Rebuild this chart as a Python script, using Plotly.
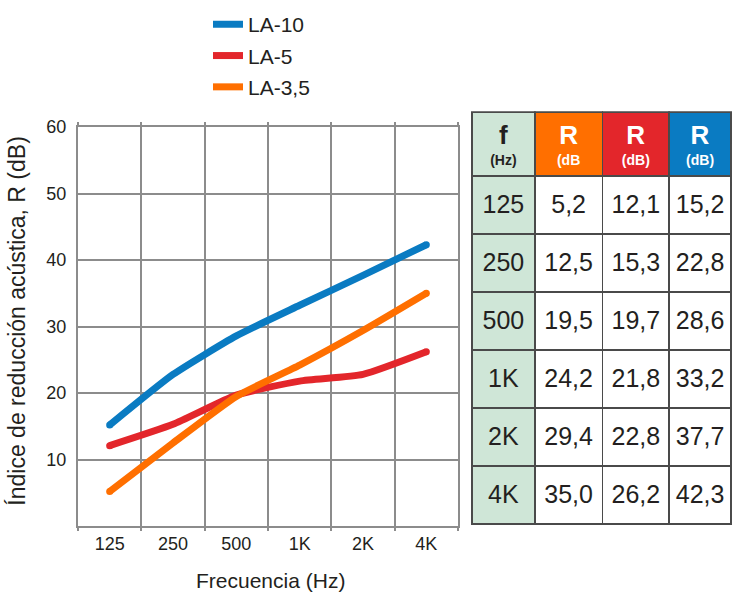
import plotly.graph_objects as go

# Sound reduction index R (dB) by frequency band for three panel types
freq_labels = ["125", "250", "500", "1K", "2K", "4K"]
r_la35 = [5.2, 12.5, 19.5, 24.2, 29.4, 35.0]
r_la5 = [12.1, 15.3, 19.7, 21.8, 22.8, 26.2]
r_la10 = [15.2, 22.8, 28.6, 33.2, 37.7, 42.3]
y_ticks = [10, 20, 30, 40, 50, 60]
head_symbols = ["f", "R", "R", "R"]
head_units = ["(Hz)", "(dB", "(dB)", "(dB)"]

W, H = 732, 592
FONT = "Liberation Sans, Arial, Helvetica, sans-serif"
TXT = "#231f20"
GRID = "#8c8c8c"
BLUE = "#0a7bc2"
RED = "#e3262b"
ORANGE = "#ff6f00"
GREEN = "#cfe6d7"
BORDER = "#4a4a4a"
CLEAR = "rgba(0,0,0,0)"

x_idx = list(range(len(freq_labels)))

fig = go.Figure()

# draw order: red below orange where they cross; legend order via legendrank
series = [
    ("LA-5", r_la5, RED, 2),
    ("LA-3,5", r_la35, ORANGE, 3),
    ("LA-10", r_la10, BLUE, 1),
]
for name, vals, color, rank in series:
    fig.add_trace(go.Scatter(
        x=x_idx, y=vals, name=name, mode="lines",
        line=dict(color=color, width=7, shape="spline", smoothing=0.5),
        legendrank=rank, legendgroup=name, hoverinfo="skip",
    ))
    # round caps at the line ends
    fig.add_trace(go.Scatter(
        x=[x_idx[0], x_idx[-1]], y=[vals[0], vals[-1]], mode="markers",
        marker=dict(color=color, size=7, line=dict(width=0)),
        showlegend=False, hoverinfo="skip",
    ))


def fmt(vals):
    return [f"{v:.1f}".replace(".", ",") for v in vals]


body_vals = [freq_labels, fmt(r_la35), fmt(r_la5), fmt(r_la10)]
head_colors = [TXT, "white", "white", "white"]
col_w = [63, 68, 67, 62]
TBL_X = [472 / W, 1.0]
HEAD_H, ROW_H = 64, 58
N_ROWS = len(freq_labels)
TOP = 112      # top edge of the table, px from the top of the page
PAD_Y = 8      # plotly draws table rows this far below the domain top


def dom(top_px, height_px):
    """Paper-fraction y domain for a table whose first row starts at top_px."""
    t = top_px - PAD_Y
    return [1 - (t + height_px) / H, 1 - t / H]


tbl_h = HEAD_H + N_ROWS * ROW_H

# table background: fills and borders
fig.add_trace(go.Table(
    domain=dict(x=TBL_X, y=dom(TOP, tbl_h + 12)),
    columnwidth=col_w,
    header=dict(
        values=[""] * 4,
        fill=dict(color=[GREEN, ORANGE, RED, BLUE]),
        line=dict(color=BORDER, width=1.5), height=HEAD_H,
    ),
    cells=dict(
        values=[[""] * N_ROWS] * 4,
        fill=dict(color=[GREEN, "white", "white", "white"]),
        line=dict(color=BORDER, width=1.5), height=ROW_H,
    ),
))

# body values, nudged down so they sit mid-cell
BODY_NUDGE = 10
fig.add_trace(go.Table(
    domain=dict(x=TBL_X, y=dom(TOP + BODY_NUDGE, tbl_h + 14)),
    columnwidth=col_w,
    header=dict(values=[""] * 4, fill=dict(color=CLEAR),
                line=dict(color=CLEAR, width=0), height=HEAD_H),
    cells=dict(
        values=body_vals,
        fill=dict(color=CLEAR), line=dict(color=CLEAR, width=0),
        align="center", height=ROW_H,
        font=dict(family=FONT, size=25, color=TXT),
    ),
))

# header, first line: quantity symbols
fig.add_trace(go.Table(
    domain=dict(x=TBL_X, y=dom(TOP, 60)),
    columnwidth=col_w,
    header=dict(
        values=[f"<b>{s}</b>" for s in head_symbols],
        fill=dict(color=CLEAR), line=dict(color=CLEAR, width=0),
        align="center", height=50,
        font=dict(family=FONT, size=26, color=head_colors),
    ),
    cells=dict(values=[]),
))

# header, second line: units
fig.add_trace(go.Table(
    domain=dict(x=TBL_X, y=dom(TOP + 32, 40)),
    columnwidth=col_w,
    header=dict(
        values=[f"<b>{u}</b>" for u in head_units],
        fill=dict(color=CLEAR), line=dict(color=CLEAR, width=0),
        align="center", height=32,
        font=dict(family=FONT, size=14, color=head_colors),
    ),
    cells=dict(values=[]),
))

fig.update_layout(
    width=W, height=H,
    margin=dict(l=0, r=0, t=0, b=0),
    paper_bgcolor="white", plot_bgcolor="white",
    font=dict(family=FONT, color=TXT),
    showlegend=True,
    legend=dict(
        x=208 / W, y=1 + 6 / H, xanchor="left", yanchor="top",
        font=dict(family=FONT, size=21, color=TXT),
        traceorder="grouped", tracegroupgap=1,
        bgcolor=CLEAR,
    ),
    xaxis=dict(
        domain=[78 / W, 458 / W], range=[-0.5, 5.5],
        tickmode="array", tickvals=x_idx, ticktext=freq_labels,
        showgrid=False, zeroline=False, ticks="",
        showline=True, linecolor=GRID, linewidth=2, mirror="ticks",
        tickfont=dict(size=18, color=TXT),
        minor=dict(
            tickmode="array",
            tickvals=[i - 0.5 for i in range(len(freq_labels) + 1)],
            showgrid=True, gridcolor=GRID, gridwidth=2,
            ticks="outside", ticklen=3, tickwidth=2, tickcolor=GRID,
        ),
        fixedrange=True,
    ),
    yaxis=dict(
        domain=[1 - 525 / H, 1 - 119 / H], range=[0, 60],
        tickmode="array", tickvals=y_ticks,
        showgrid=True, gridcolor=GRID, gridwidth=2, zeroline=False,
        showline=True, linecolor=GRID, linewidth=2, mirror=True,
        ticks="", ticklabelstandoff=6,
        tickfont=dict(size=18, color=TXT),
        fixedrange=True,
    ),
    annotations=[
        dict(
            text="Índice de reducción acústica, R (dB)",
            xref="paper", yref="paper", x=17 / W, y=1 - 317 / H,
            xanchor="center", yanchor="middle", textangle=-90,
            showarrow=False, font=dict(size=23, color=TXT),
        ),
        dict(
            text="Frecuencia (Hz)",
            xref="paper", yref="paper", x=270 / W, y=1 - 580 / H,
            xanchor="center", yanchor="middle",
            showarrow=False, font=dict(size=21, color=TXT),
        ),
    ],
)

fig.write_html("out.html")
